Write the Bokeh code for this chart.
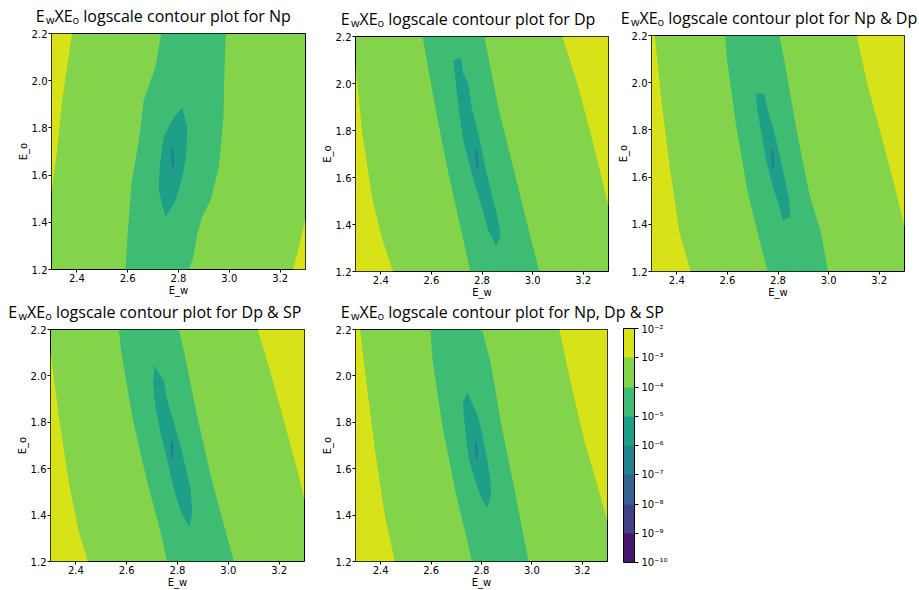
from bokeh.plotting import figure
from bokeh.models import (Range1d, FixedTicker, PrintfTickFormatter, ColumnDataSource,
                          ColorBar, LinearColorMapper)
from bokeh.layouts import column, row
from bokeh.palettes import Viridis256
from bokeh.core.properties import value
from bokeh.embed import file_html
from bokeh.resources import INLINE

# ---------------- data ----------------
X_RANGE = (2.3, 3.3)
Y_RANGE = (1.2, 2.2)
X_TICKS = [2.4, 2.6, 2.8, 3.0, 3.2]
Y_TICKS = [1.2, 1.4, 1.6, 1.8, 2.0, 2.2]
X_LABEL = "E_w"
Y_LABEL = "E_o"
EXPONENTS = [-10, -9, -8, -7, -6, -5, -4, -3, -2]   # colour levels 10^k
TITLE_HEAD = ["E", "w", "XE", "o"]                  # E_w X E_o (w, o as subscripts)
TITLE_TAILS = [" logscale contour plot for Np",
               " logscale contour plot for Dp",
               " logscale contour plot for Np & Dp",
               " logscale contour plot for Dp & SP",
               " logscale contour plot for Np, Dp & SP"]

# contour regions, (E_w, E_o) points
# panel "Np"
np_yellow_left = [(2.3, 2.2), (2.381, 2.2), (2.342, 1.916), (2.322, 1.704), (2.3, 1.526)]
np_yellow_right = [(3.251, 1.2), (3.277, 1.31), (3.3, 1.416), (3.3, 1.2)]
np_band4_left = [(2.732, 2.2), (2.709, 2.057), (2.663, 1.916), (2.644, 1.747), (2.615, 1.564), (2.600, 1.351), (2.591, 1.2)]
np_band4_right = [(2.986, 2.2), (2.981, 2.057), (2.977, 1.845), (2.959, 1.633), (2.926, 1.492), (2.893, 1.422), (2.874, 1.351), (2.858, 1.252), (2.841, 1.2)]
np_band5 = [(2.815, 1.885), (2.834, 1.803), (2.831, 1.690), (2.815, 1.591), (2.788, 1.492), (2.749, 1.422), (2.722, 1.535), (2.726, 1.633), (2.742, 1.761), (2.755, 1.789), (2.781, 1.845)]
np_band6 = [(2.776, 1.726), (2.784, 1.67), (2.781, 1.612), (2.772, 1.65), (2.771, 1.70)]

# panel "Dp"
dp_yellow_left = [(2.3, 2.07), (2.327, 1.788), (2.367, 1.505), (2.406, 1.336), (2.448, 1.2), (2.3, 1.2)]
dp_yellow_right = [(3.118, 2.2), (3.177, 1.999), (3.229, 1.788), (3.269, 1.618), (3.3, 1.477), (3.3, 2.2)]
dp_band4_left = [(2.565, 2.2), (2.615, 1.900), (2.667, 1.618), (2.726, 1.336), (2.754, 1.2)]
dp_band4_right = [(2.809, 2.2), (2.864, 1.900), (2.929, 1.618), (2.994, 1.336), (3.027, 1.2)]
dp_band5 = [(2.687, 2.098), (2.717, 2.110), (2.726, 2.042), (2.746, 2.000), (2.759, 1.900), (2.791, 1.759), (2.818, 1.618), (2.844, 1.505), (2.864, 1.420), (2.874, 1.350), (2.857, 1.307), (2.824, 1.378), (2.791, 1.505), (2.759, 1.618), (2.726, 1.759), (2.707, 1.900), (2.693, 2.042)]
dp_band6 = [(2.777, 1.731), (2.786, 1.690), (2.784, 1.625), (2.775, 1.660), (2.773, 1.700)]

# panel "Np & Dp"
npdp_yellow_left = [(2.3, 2.2), (2.313, 2.2), (2.339, 1.926), (2.372, 1.644), (2.411, 1.363), (2.455, 1.2), (2.3, 1.2)]
npdp_yellow_right = [(3.111, 2.2), (3.153, 1.996), (3.206, 1.785), (3.258, 1.574), (3.3, 1.391), (3.3, 2.2)]
npdp_band4_left = [(2.591, 2.2), (2.599, 2.095), (2.635, 1.813), (2.681, 1.532), (2.72, 1.363), (2.759, 1.2)]
npdp_band4_right = [(2.805, 2.2), (2.825, 2.095), (2.871, 1.813), (2.923, 1.532), (2.97, 1.363), (2.998, 1.2)]
npdp_band5 = [(2.713, 1.954), (2.746, 1.954), (2.759, 1.884), (2.779, 1.813), (2.805, 1.701), (2.825, 1.602), (2.844, 1.504), (2.848, 1.433), (2.819, 1.416), (2.805, 1.476), (2.779, 1.560), (2.753, 1.673), (2.730, 1.813), (2.717, 1.897)]
npdp_band6 = [(2.777, 1.726), (2.785, 1.685), (2.783, 1.623), (2.774, 1.66), (2.772, 1.70)]

# panel "Dp & SP"
dpsp_yellow_left = [(2.3, 2.107), (2.333, 1.824), (2.372, 1.542), (2.411, 1.330), (2.447, 1.2), (2.3, 1.2)]
dpsp_yellow_right = [(3.116, 2.2), (3.179, 1.966), (3.232, 1.754), (3.278, 1.570), (3.3, 1.464), (3.3, 2.2)]
dpsp_band4_left = [(2.569, 2.2), (2.578, 2.107), (2.622, 1.824), (2.681, 1.542), (2.733, 1.330), (2.759, 1.2)]
dpsp_band4_right = [(2.805, 2.2), (2.825, 2.107), (2.878, 1.824), (2.937, 1.542), (3.022, 1.2)]
dpsp_band5 = [(2.709, 2.047), (2.720, 2.022), (2.746, 1.980), (2.759, 1.895), (2.779, 1.824), (2.805, 1.725), (2.831, 1.612), (2.851, 1.514), (2.858, 1.415), (2.848, 1.351), (2.818, 1.400), (2.785, 1.514), (2.759, 1.641), (2.733, 1.754), (2.713, 1.867), (2.704, 1.966)]
dpsp_band6 = [(2.777, 1.733), (2.785, 1.69), (2.783, 1.627), (2.774, 1.66), (2.772, 1.70)]

# panel "Np, Dp & SP"
all_yellow_left = [(2.3, 2.2), (2.318, 2.2), (2.344, 1.966), (2.377, 1.683), (2.416, 1.400), (2.456, 1.2), (2.3, 1.2)]
all_yellow_right = [(3.109, 2.2), (3.155, 1.966), (3.207, 1.725), (3.260, 1.528), (3.3, 1.372), (3.3, 2.2)]
all_band4_left = [(2.597, 2.2), (2.606, 2.064), (2.645, 1.782), (2.697, 1.500), (2.763, 1.2)]
all_band4_right = [(2.802, 2.2), (2.835, 2.064), (2.880, 1.782), (2.933, 1.500), (2.987, 1.2)]
all_band5 = [(2.743, 1.930), (2.769, 1.867), (2.782, 1.839), (2.802, 1.754), (2.822, 1.641), (2.835, 1.556), (2.838, 1.485), (2.822, 1.429), (2.795, 1.485), (2.769, 1.570), (2.750, 1.641), (2.736, 1.754), (2.726, 1.881)]
all_band6 = [(2.778, 1.725), (2.786, 1.68), (2.784, 1.627), (2.775, 1.66), (2.773, 1.70)]

PANELS = [
    (np_yellow_left, np_yellow_right, np_band4_left, np_band4_right, np_band5, np_band6),
    (dp_yellow_left, dp_yellow_right, dp_band4_left, dp_band4_right, dp_band5, dp_band6),
    (npdp_yellow_left, npdp_yellow_right, npdp_band4_left, npdp_band4_right, npdp_band5, npdp_band6),
    (dpsp_yellow_left, dpsp_yellow_right, dpsp_band4_left, dpsp_band4_right, dpsp_band5, dpsp_band6),
    (all_yellow_left, all_yellow_right, all_band4_left, all_band4_right, all_band5, all_band6),
]

# ---------------- style / layout ----------------
BAND_COLORS = [Viridis256[int((i + 0.5) * 256 / 8)] for i in range(8)]
TICK_FONT = "DejaVu Sans"
TITLE_FONT = "Open Sans"

# per panel: (width, strip height, border left, border right, border top, frame h, border bottom)
GEOM = [
    (318, 27, 51, 13, 6, 236, 31),
    (296, 30, 35, 6, 6, 236, 28),
    (305, 29, 36, 15, 6, 237, 28),
    (318, 23, 50, 14, 6, 232, 29),
    (601, 23, 34, 312, 6, 232, 29),
]
# title ink-left offset from frame left (px)
TITLE_DX = [-14.3, -11.3, -28.3, -40.7, -10.3]
# wanted baseline height above the strip bottom (px)
TITLE_BASE = 5.3
# piece offsets (px) from the title origin: E, w(sub), XE, o(sub), tail
PIECE_DX = [0.0, 10.3, 18.7, 36.9, 47.6]
SUB_DROP = 1.5
# the text glyph draws its alphabetic baseline this many px below the given y
BIG_SHIFT = 6.45
SUB_SHIFT = 4.4


def no_frame_align(fig):
    if "frame_align" in fig.properties():
        fig.frame_align = False


def pts_xy(pts):
    return [a for a, b in pts], [b for a, b in pts]


def style_axes(p):
    for ax in p.axis:
        ax.major_label_text_font = TICK_FONT
        ax.major_label_text_font_size = "10px"
        ax.major_label_text_color = "black"
        ax.axis_label_text_font = TICK_FONT
        ax.axis_label_text_font_size = "10px"
        ax.axis_label_text_font_style = "normal"
        ax.axis_label_text_color = "black"
        ax.major_tick_out = 3
        ax.major_tick_in = 0
        ax.minor_tick_out = 0
        ax.minor_tick_in = 0
        ax.major_tick_line_color = "black"
        ax.axis_line_color = None
        ax.major_label_standoff = 1
        ax.axis_label_standoff = 0


def make_panel(idx):
    w, sh, bl, br, bt, fh, bb = GEOM[idx]
    p = figure(width=w, height=bt + fh + bb, x_range=Range1d(*X_RANGE), y_range=Range1d(*Y_RANGE),
               toolbar_location=None, output_backend="svg",
               min_border_left=bl, min_border_right=br, min_border_top=bt, min_border_bottom=bb)
    no_frame_align(p)
    p.grid.visible = False
    p.background_fill_color = BAND_COLORS[6]
    p.border_fill_color = "white"
    p.outline_line_color = "black"
    p.outline_line_width = 1
    p.outline_line_alpha = 1.0
    yl, yr, b4l, b4r, b5, b6 = PANELS[idx]
    for reg in (yl, yr):
        xs, ys = pts_xy(reg)
        p.patch(xs, ys, fill_color=BAND_COLORS[7], line_color=None)
    xs, ys = pts_xy(b4l + b4r[::-1])
    p.patch(xs, ys, fill_color=BAND_COLORS[5], line_color=None)
    xs, ys = pts_xy(b5)
    p.patch(xs, ys, fill_color=BAND_COLORS[4], line_color=None)
    xs, ys = pts_xy(b6)
    p.patch(xs, ys, fill_color=BAND_COLORS[3], line_color=None)
    p.xaxis.ticker = FixedTicker(ticks=X_TICKS)
    p.yaxis.ticker = FixedTicker(ticks=Y_TICKS)
    p.xaxis.formatter = PrintfTickFormatter(format="%.1f")
    p.yaxis.formatter = PrintfTickFormatter(format="%.1f")
    p.xaxis.axis_label = X_LABEL
    p.yaxis.axis_label = Y_LABEL
    style_axes(p)
    return p


def make_title_strip(idx):
    w, sh, bl, br, bt, fh, bb = GEOM[idx]
    s = figure(width=w, height=sh, x_range=Range1d(0, w), y_range=Range1d(0, sh),
               toolbar_location=None, output_backend="svg", min_border=0,
               x_axis_location=None, y_axis_location=None)
    no_frame_align(s)
    s.grid.visible = False
    s.outline_line_color = None
    s.background_fill_color = "white"
    s.border_fill_color = "white"
    origin = bl + TITLE_DX[idx] - 1.5
    big_y = TITLE_BASE + BIG_SHIFT
    sub_y = TITLE_BASE - SUB_DROP + SUB_SHIFT
    big = dict(x=[origin + PIECE_DX[0], origin + PIECE_DX[2], origin + PIECE_DX[4]],
               y=[big_y] * 3, text=[TITLE_HEAD[0], TITLE_HEAD[2], TITLE_TAILS[idx]])
    small = dict(x=[origin + PIECE_DX[1], origin + PIECE_DX[3]],
                 y=[sub_y] * 2, text=[TITLE_HEAD[1], TITLE_HEAD[3]])
    s.text(x="x", y="y", text="text", source=ColumnDataSource(big),
           text_font=value(TITLE_FONT), text_font_size=value("16px"),
           text_baseline="alphabetic", text_align="left", text_color="black")
    s.text(x="x", y="y", text="text", source=ColumnDataSource(small),
           text_font=value(TITLE_FONT), text_font_size=value("11px"),
           text_baseline="alphabetic", text_align="left", text_color="black")
    return s


SUP = str.maketrans("-0123456789", "\u207b\u2070\u00b9\u00b2\u00b3\u2074\u2075\u2076\u2077\u2078\u2079")


def add_colorbar(p, frame_h):
    mapper = LinearColorMapper(palette=BAND_COLORS, low=EXPONENTS[0], high=EXPONENTS[-1])
    cb = ColorBar(color_mapper=mapper, orientation="vertical",
                  ticker=FixedTicker(ticks=EXPONENTS),
                  major_label_overrides={e: "10" + str(e).translate(SUP) for e in EXPONENTS},
                  major_label_text_font=TICK_FONT, major_label_text_font_size="10px",
                  major_label_text_color="black",
                  major_tick_line_color="black", major_tick_in=0, major_tick_out=4,
                  minor_tick_line_color=None, label_standoff=3,
                  bar_line_color="black", bar_line_width=1,
                  width=11, height=frame_h + 2, location=(16, -1),
                  padding=0, margin=0, border_line_color=None,
                  background_fill_alpha=0.0)
    p.add_layout(cb, "right")


panels = [make_panel(i) for i in range(5)]
add_colorbar(panels[4], GEOM[4][5])
cols = [column(make_title_strip(i), panels[i]) for i in range(5)]

layout = column(row(cols[0], cols[1], cols[2]), row(cols[3], cols[4]))

open("out.html", "w").write(file_html(layout, INLINE))
